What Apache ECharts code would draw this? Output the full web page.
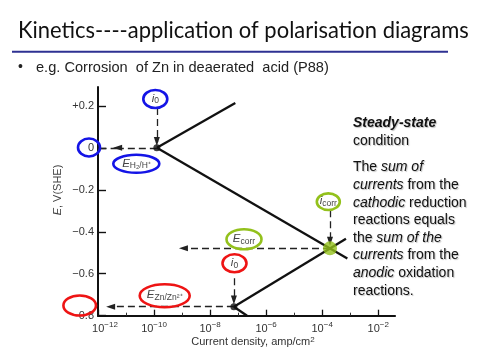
<!DOCTYPE html>
<html><head><meta charset="utf-8">
<script src="https://cdn.jsdelivr.net/npm/echarts@6/dist/echarts.min.js"></script>
<style>html,body{margin:0;padding:0;background:#fff}#c{width:480px;height:360px}</style>
</head><body><div id="c"></div>
<script>
// ---- data (x values are log10 of current density, amp/cm^2; y values are E, V(SHE)) ----
const xTickExponents = [-12, -10, -8, -6, -4, -2];
const xMinorExponents = [-11, -9, -7, -5, -3];
const yTickValues = [-0.8, -0.6, -0.4, -0.2, 0, 0.2];
const yTickLabels = ['\u22120.8', '\u22120.6', '\u22120.4', '\u22120.2', '0', '+0.2'];

const h2AnodicLogI = [-9.9, -7.1];
const h2AnodicE = [0, 0.214];
const h2CathodicLogI = [-9.9, -3.1];
const h2CathodicE = [0, -0.527];
const znAnodicLogI = [-7.15, -3.15];
const znAnodicE = [-0.757, -0.433];
const znCathodicLogI = [-7.15, -6.68];
const znCathodicE = [-0.757, -0.8];

const exchangeLogI = [-9.9, -7.15];
const exchangeE = [0, -0.757];
const corrLogI = [-3.72];
const corrE = [-0.479];

const h2I0ArrowLogI = [-9.9, -9.9];   const h2I0ArrowE = [0.19, 0.03];
const h2EqArrowLogI = [-9.9, -11.3];  const h2EqArrowE = [0, 0];
const h2EqTailLogI = [-11.3, -11.92]; const h2EqTailE = [0, 0];
const ecorrArrowLogI = [-3.72, -8.95]; const ecorrArrowE = [-0.479, -0.479];
const icorrArrowLogI = [-3.72, -3.72]; const icorrArrowE = [-0.297, -0.445];
const znI0ArrowLogI = [-7.15, -7.15]; const znI0ArrowE = [-0.621, -0.725];
const znEqArrowLogI = [-7.15, -11.55]; const znEqArrowE = [-0.757, -0.757];

const zip = (a, b) => a.map((v, i) => [v, b[i]]);
const pair = (a, b) => [{ coord: [a[0], b[0]] }, { coord: [a[1], b[1]] }];

const chart = echarts.init(document.getElementById('c'), null, { renderer: 'canvas' });

const BLUE = '#1414e6', RED = '#ee1414', GREEN = '#93c11c';
const AX = 'Liberation Sans, Arial, sans-serif';
const lineSeries = (data) => ({
  type: 'line', data, symbol: 'none', silent: true, animation: false,
  lineStyle: { color: '#111', width: 2.3 }, z: 3
});

const ellipse = (cx, cy, rx, ry, color) => ({
  type: 'ellipse', shape: { cx, cy, rx, ry }, z: 20,
  style: { fill: 'none', stroke: color, lineWidth: 2.6 }
});
const label = (x, y, text, rich) => ({
  type: 'text', x, y, z: 21,
  style: { text, rich, font: '11px ' + AX, fill: '#444', align: 'center', verticalAlign: 'middle', textAlign: 'center', textVerticalAlign: 'middle' }
});
const richSub = {
  m: { fontSize: 11.5, fontStyle: 'italic', fontFamily: AX, color: '#444', lineHeight: 13, verticalAlign: 'top' },
  s: { fontSize: 8.5, fontFamily: AX, color: '#444', lineHeight: 9, verticalAlign: 'bottom' }
};

const rightLines = [
  ['{b|Steady-state}', 123],
  ['condition', 141],
  ['The {i|sum of}', 167],
  ['{i|currents} from the', 184.7],
  ['{i|cathodic} reduction', 202.3],
  ['reactions equals', 220],
  ['the {i|sum of the}', 237.5],
  ['{i|currents} from the', 255],
  ['{i|anodic} oxidation', 272.7],
  ['reactions.', 290.5]
];
const textShadow = { textShadowColor: 'rgba(0,0,0,0.25)', textShadowOffsetX: 1, textShadowOffsetY: 1, textShadowBlur: 1 };

const graphics = [
  { type: 'text', x: 18, y: 30, scaleX: 0.915, z: 10, style: { text: 'Kinetics----application of polarisation diagrams', font: '24px Lato', fill: '#111', verticalAlign: 'middle', textVerticalAlign: 'middle' } },
  { type: 'rect', shape: { x: 12, y: 50.7, width: 436, height: 2 }, style: { fill: '#2e3192' } },
  { type: 'text', x: 18, y: 67.5, style: { text: '\u2022', font: '14px ' + AX, fill: '#222', verticalAlign: 'middle', textVerticalAlign: 'middle' } },
  { type: 'text', x: 36, y: 67.5, style: { text: 'e.g. Corrosion  of Zn in deaerated  acid (P88)', font: '14.6px ' + AX, fill: '#222', verticalAlign: 'middle', textVerticalAlign: 'middle' } },
  // axis names
  { type: 'text', x: 57.5, y: 190, rotation: Math.PI / 2, style: { text: '{e|E}, V(SHE)', rich: { e: { fontStyle: 'italic', fontSize: 11, fontFamily: AX, color: '#444' } }, font: '11px ' + AX, fill: '#444', align: 'center', verticalAlign: 'middle', textAlign: 'center', textVerticalAlign: 'middle' } },
  { type: 'text', x: 253, y: 342, style: { text: 'Current density, amp/cm{s|2}', rich: { s: { fontSize: 8, fontFamily: AX, color: '#333', lineHeight: 9, verticalAlign: 'top' } }, font: '11px ' + AX, fill: '#333', lineHeight: 13, align: 'center', verticalAlign: 'middle', textAlign: 'center', textVerticalAlign: 'middle' } },
  // annotation labels
  label(155.3, 99, '{m|i}{s|0}', richSub),
  label(136.5, 164, '{m|E}{s|H\u2082/H\u207A}', richSub),
  label(244, 239.3, '{m|E}{s|corr}', richSub),
  label(328.3, 201.7, '{m|i}{s|corr}', richSub),
  label(234.5, 263.3, '{m|i}{s|0}', richSub),
  label(164.7, 295.7, '{m|E}{s|Zn/Zn\u00B2\u207A}', richSub),
  // circles
  ellipse(155.3, 99, 12, 9, BLUE),
  ellipse(89, 147.5, 11, 9, BLUE),
  ellipse(136.3, 163.8, 23, 9, BLUE),
  ellipse(244, 239.3, 17.5, 10, GREEN),
  ellipse(328.3, 201.7, 11.5, 8.3, GREEN),
  ellipse(234.5, 263.3, 12, 9, RED),
  ellipse(164.7, 295.7, 25, 11.5, RED),
  ellipse(79.7, 305.5, 16.3, 10, RED)
];
rightLines.forEach(([t, y]) => {
  graphics.push({ type: 'text', x: 353, y: y + 0.5, z: 10, style: Object.assign({
    text: t, font: '14px ' + AX, fill: '#111', verticalAlign: 'middle', textVerticalAlign: 'middle',
    rich: {
      b: Object.assign({ fontSize: 14, fontWeight: 'bold', fontStyle: 'italic', fontFamily: AX, color: '#111' }, textShadow),
      i: Object.assign({ fontSize: 14, fontStyle: 'italic', fontFamily: AX, color: '#111' }, textShadow)
    }
  }, textShadow) });
});

const option = {
  animation: false,
  backgroundColor: '#fff',
  grid: { left: 98, right: 85, top: 87, bottom: 44.3, containLabel: false },
  xAxis: [{
    type: 'value', min: -12, max: -1.4, interval: 2,
    axisLine: { show: true, onZero: false, lineStyle: { color: '#111', width: 2.2 } },
    axisTick: { show: true, inside: true, length: 6, customValues: xTickExponents, lineStyle: { color: '#111', width: 1.3 } },
    splitLine: { show: false },
    axisLabel: {
      customValues: xTickExponents, margin: 5,
      formatter: (v) => (v === -12 ? '{p|}' : '') + '{a|10}{b|' + String(v).replace('-', '\u2212') + '}',
      rich: {
        p: { width: 14 },
        a: { fontSize: 11, fontFamily: AX, color: '#333', lineHeight: 14, verticalAlign: 'bottom' },
        b: { fontSize: 8, fontFamily: AX, color: '#333', lineHeight: 9, verticalAlign: 'top' }
      }
    }
  }, {
    type: 'value', min: -12, max: -1.4, position: 'bottom', gridIndex: 0,
    axisLine: { show: false, onZero: false },
    axisTick: { show: true, inside: true, length: 3, customValues: xMinorExponents, lineStyle: { color: '#333', width: 1 } },
    axisLabel: { show: false }, splitLine: { show: false }
  }],
  yAxis: {
    type: 'value', min: -0.8, max: 0.29, interval: 0.2,
    axisLine: { show: true, onZero: false, lineStyle: { color: '#111', width: 2 } },
    axisTick: { show: true, inside: true, length: 8, customValues: yTickValues, lineStyle: { color: '#111', width: 1.4 } },
    splitLine: { show: false },
    axisLabel: {
      customValues: yTickValues, margin: 4, fontSize: 11, fontFamily: AX, color: '#333',
      formatter: (v) => { const k = yTickValues.findIndex(t => Math.abs(t - v) < 1e-6); return k >= 0 ? yTickLabels[k] : ''; }
    }
  },
  series: [
    lineSeries(zip(h2AnodicLogI, h2AnodicE)),
    lineSeries(zip(h2CathodicLogI, h2CathodicE)),
    lineSeries(zip(znAnodicLogI, znAnodicE)),
    lineSeries(zip(znCathodicLogI, znCathodicE)),
    {
      type: 'line', data: [], silent: true,
      markLine: {
        silent: true, animation: false,
        symbol: ['none', 'triangle'], symbolSize: [6, 9],
        label: { show: false },
        lineStyle: { color: '#222', width: 1.3, type: [7, 4] },
        emphasis: { disabled: true },
        data: [
          pair(h2I0ArrowLogI, h2I0ArrowE),
          pair(h2EqArrowLogI, h2EqArrowE),
          Object.assign(pair(h2EqTailLogI, h2EqTailE), {}),
          pair(ecorrArrowLogI, ecorrArrowE),
          pair(icorrArrowLogI, icorrArrowE),
          pair(znI0ArrowLogI, znI0ArrowE),
          pair(znEqArrowLogI, znEqArrowE)
        ].map((d, i) => i === 2 ? [Object.assign({ symbol: 'none' }, d[0]), Object.assign({ symbol: 'none' }, d[1])] : d)
      }
    },
    { type: 'scatter', data: zip(exchangeLogI, exchangeE), symbolSize: 7, itemStyle: { color: '#111' }, silent: true, z: 5 },
    { type: 'scatter', data: zip(corrLogI, corrE), symbolSize: 14, itemStyle: { color: GREEN }, silent: true, z: 6 }
  ],
  graphic: { elements: graphics }
};
chart.setOption(option);
</script>
</body></html>
